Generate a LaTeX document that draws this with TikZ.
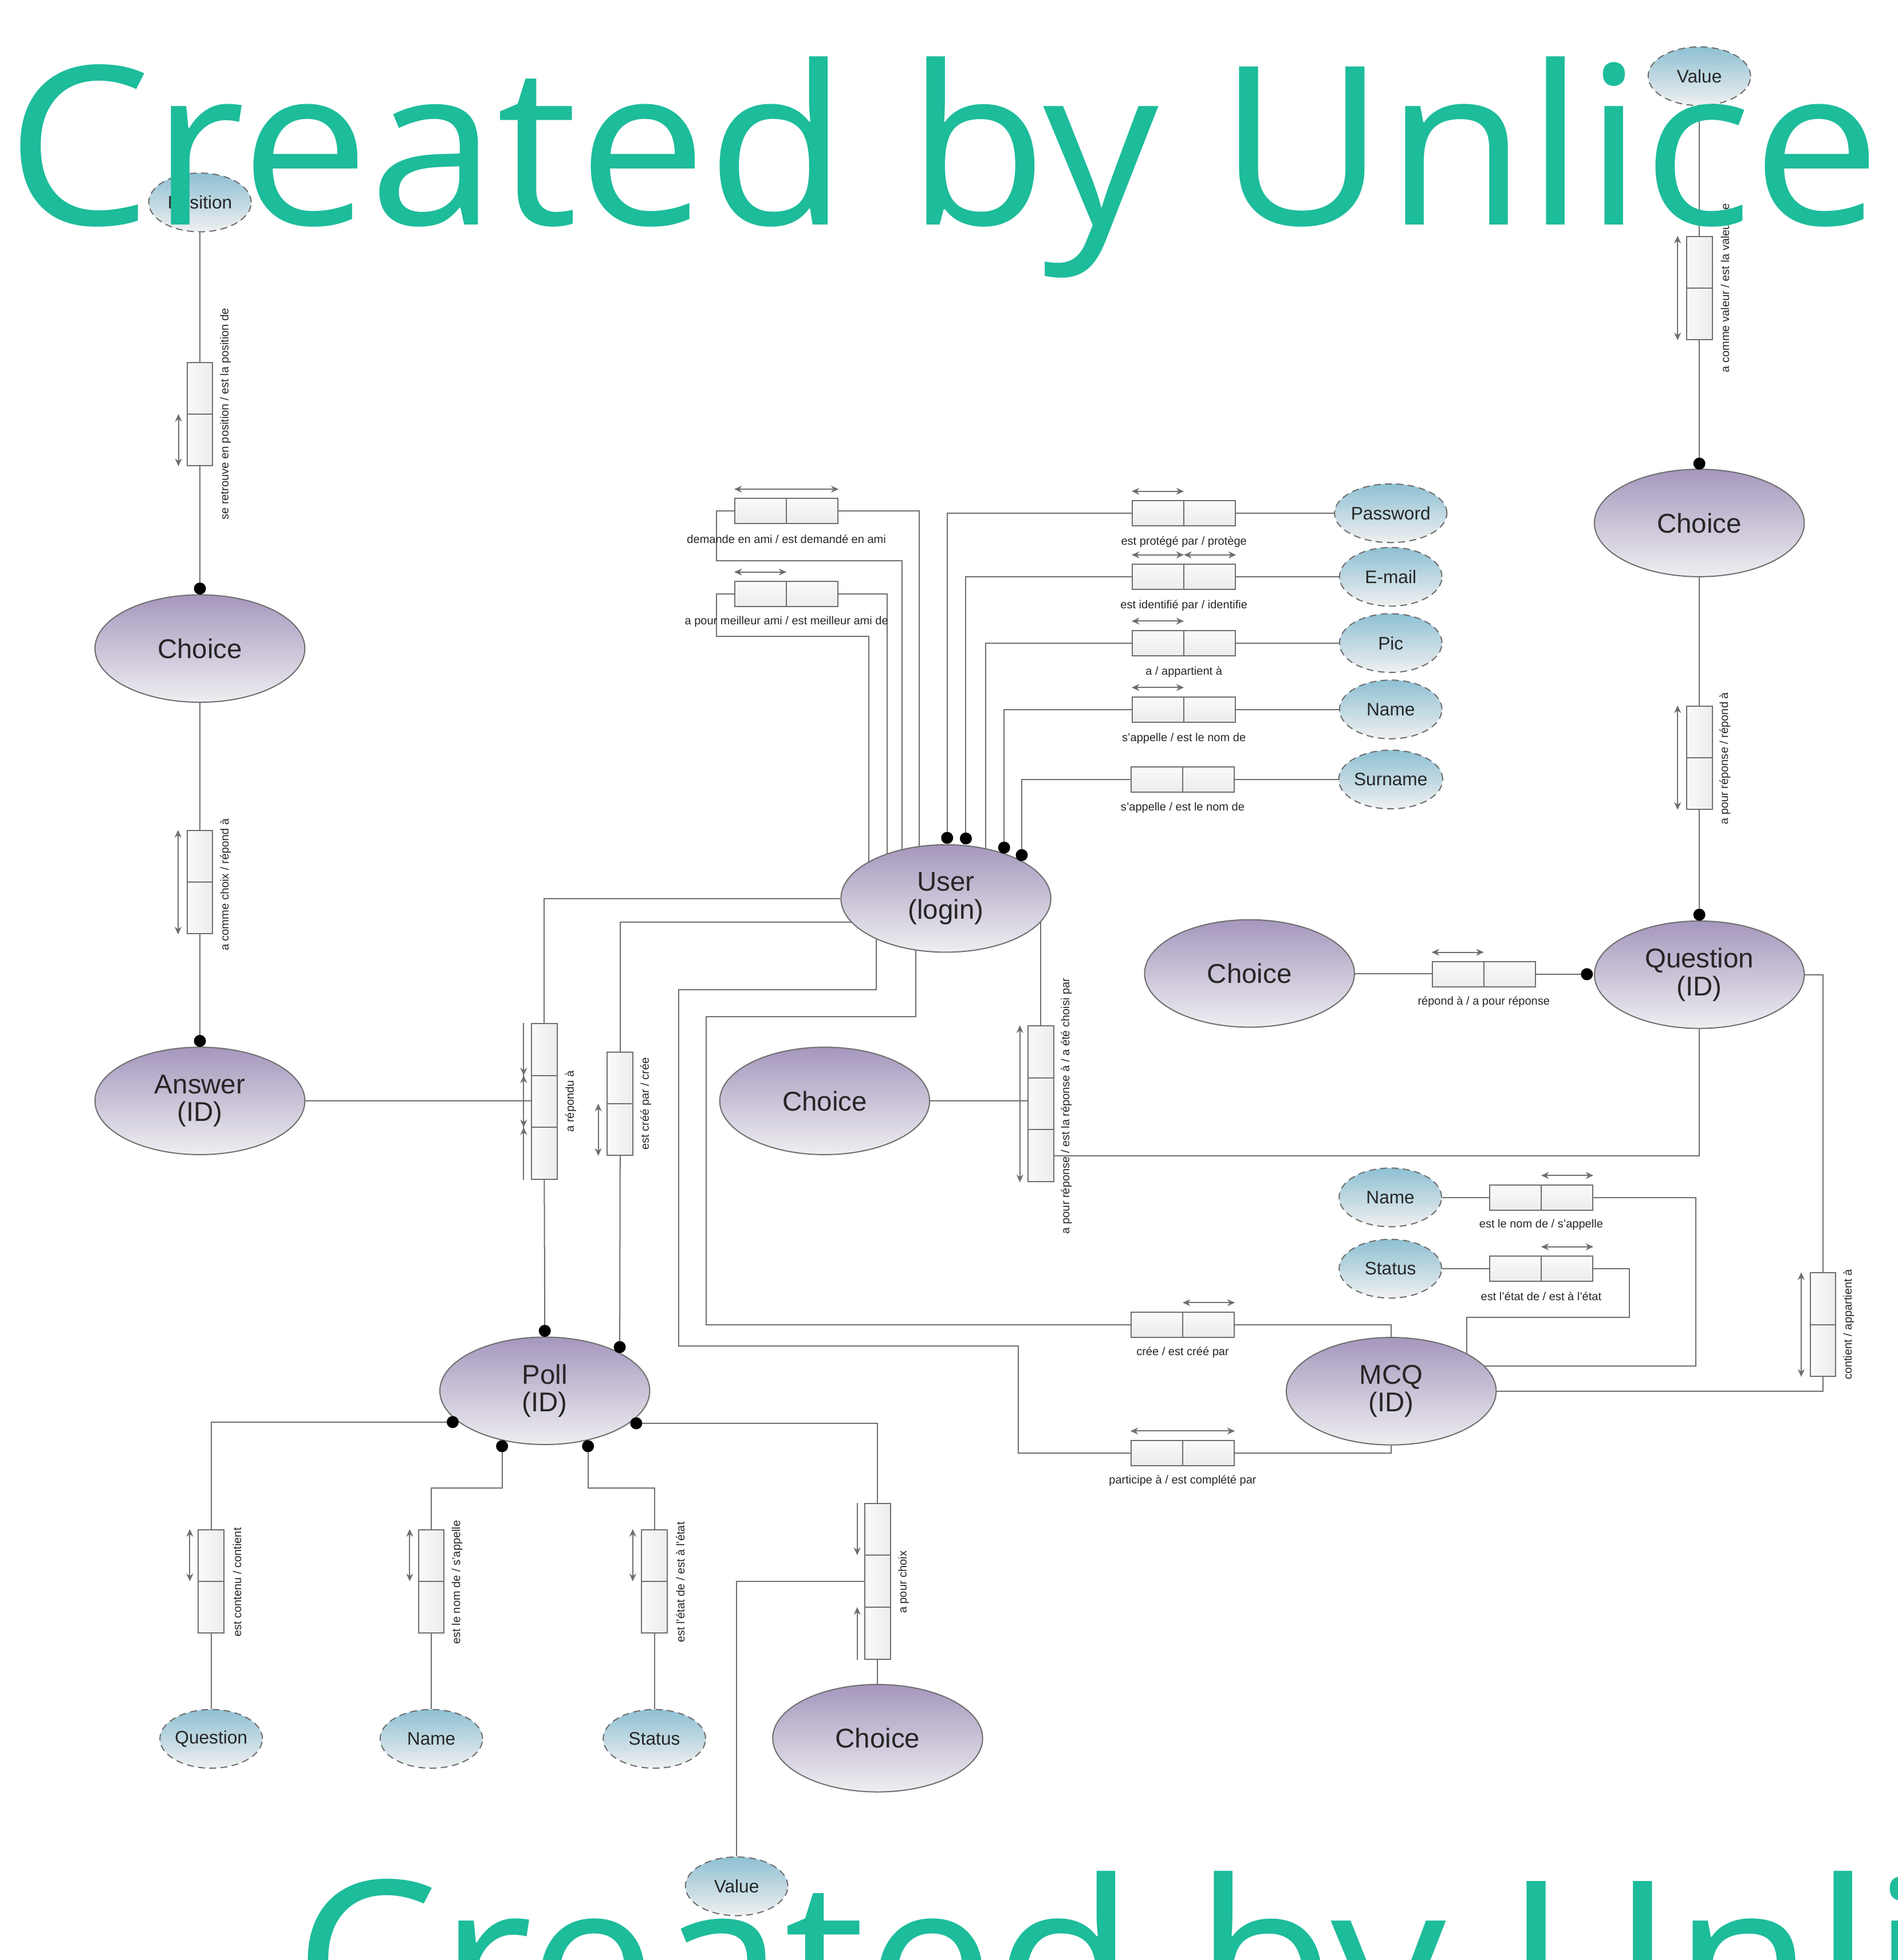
\documentclass[tikz,border=0pt]{standalone}
\usepackage{fontspec}
\setmainfont{Liberation Sans}
\newfontfamily\wmfont{Open Sans}
\usetikzlibrary{shapes.geometric,arrows.meta,calc}
\definecolor{ln}{HTML}{6E6E6E}
\definecolor{txt}{HTML}{262626}
\definecolor{entTop}{HTML}{A597BD}
\definecolor{entBot}{HTML}{EFEEF1}
\definecolor{attTop}{HTML}{8EC0D3}
\definecolor{attBot}{HTML}{F0F0F0}
\definecolor{wm}{HTML}{1DBC9B}
\definecolor{boxA}{HTML}{FAFAFA}
\definecolor{boxB}{HTML}{ECECEC}
\pgfdeclarelayer{bg}
\pgfdeclarelayer{fg}
\pgfsetlayers{bg,main,fg}
\tikzset{
 conn/.style={draw=ln, line width=0.57pt},
 ent/.style={ellipse, draw=ln, line width=0.57pt, top color=entTop, bottom color=entBot,
   minimum width=3.665cm, minimum height=1.876cm, inner sep=0pt, align=center, text=txt,
   font=\fontsize{13.5}{13.8}\selectfont},
 att/.style={ellipse, draw=ln, line width=0.57pt, dash pattern=on 3.4pt off 2.2pt,
   top color=attTop, bottom color=attBot, minimum width=1.789cm, minimum height=1.025cm,
   inner sep=0pt, text=txt, font=\fontsize{9}{10}\selectfont},
 hbox/.style={rectangle, draw=ln, line width=0.57pt, top color=boxA, bottom color=boxB,
   minimum width=1.804cm, minimum height=0.44cm, inner sep=0pt,
   path picture={\draw[ln, line width=0.57pt] (path picture bounding box.north) -- (path picture bounding box.south);}},
 vbox2/.style={rectangle, draw=ln, line width=0.57pt, left color=boxA, right color=boxB,
   minimum width=0.447cm, minimum height=1.804cm, inner sep=0pt,
   path picture={\draw[ln, line width=0.57pt] (path picture bounding box.west) -- (path picture bounding box.east);}},
 vbox3/.style={rectangle, draw=ln, line width=0.57pt, left color=boxA, right color=boxB,
   minimum width=0.447cm, minimum height=2.72cm, inner sep=0pt,
   path picture={
     \draw[ln, line width=0.57pt] ($(path picture bounding box.north west)!0.3333!(path picture bounding box.south west)$) -- ($(path picture bounding box.north east)!0.3333!(path picture bounding box.south east)$);
     \draw[ln, line width=0.57pt] ($(path picture bounding box.north west)!0.6667!(path picture bounding box.south west)$) -- ($(path picture bounding box.north east)!0.6667!(path picture bounding box.south east)$);}},
 lbl/.style={inner sep=0pt, text=txt, font=\fontsize{5.7}{6.5}\selectfont},
 vlbl/.style={lbl, rotate=90},
 rarr/.style={draw=ln, line width=0.57pt, arrows={Stealth[length=3.8pt,width=3.4pt,inset=1.2pt]-Stealth[length=3.8pt,width=3.4pt,inset=1.2pt]}},
 tarr/.style={draw=ln, line width=0.57pt, arrows={-Stealth[length=3.8pt,width=3.4pt,inset=1.2pt]}},
 dot/.style={circle, fill=black, inner sep=0pt, minimum size=0.21cm},
 wmtext/.style={inner sep=0pt, text=wm, xscale=1.037, font=\wmfont\fontsize{110}{120}\selectfont},
}
\begin{document}
\begin{tikzpicture}[x=0.021817cm,y=-0.021817cm]
\useasboundingbox (0,0) rectangle (1519,1568.5);
% ---------- entities
\node[ent] (chTL) at (160,519) {Choice};
\node[ent] (answer) at (160,881) {Answer\\(ID)};
\node[ent] (user) at (757,719) {User\\(login)};
\node[ent] (chMid) at (660,881) {Choice};
\node[ent] (chMR) at (1000,779) {Choice};
\node[ent] (question) at (1360,780) {Question\\(ID)};
\node[ent] (chTR) at (1360,418.5) {Choice};
\node[ent] (poll) at (436,1113) {Poll\\(ID)};
\node[ent] (mcq) at (1113.4,1113.3) {MCQ\\(ID)};
\node[ent] (chBot) at (702.4,1391) {Choice};
% ---------- attributes
\node[att] (aPos) at (160,162) {Position};
\node[att] (aValT) at (1360,61) {Value};
\node[att] (aPw) at (1113,410.7) {Password};
\node[att] (aMail) at (1113,461.6) {E-mail};
\node[att] (aPic) at (1113,514.6) {Pic};
\node[att] (aName) at (1113,567.7) {Name};
\node[att] (aSur) at (1113,623.8) {Surname};
\node[att] (aName2) at (1112.7,958.2) {Name};
\node[att] (aStat2) at (1112.7,1015.3) {Status};
\node[att] (aQ) at (169,1391.5) {Question};
\node[att] (aName3) at (345.2,1391.5) {Name};
\node[att] (aStat3) at (523.7,1391.5) {Status};
\node[att] (aValB) at (589.5,1509.5) {Value};
% ---------- horizontal relation boxes
\node[hbox] (rFriend) at (629.4,409) {};
\node[hbox] (rBest) at (629.4,475.3) {};
\node[hbox] (rPw) at (947.5,410.7) {};
\node[hbox] (rMail) at (947.5,461.6) {};
\node[hbox] (rPic) at (947.5,514.6) {};
\node[hbox] (rName) at (947.5,567.7) {};
\node[hbox] (rSur) at (946.5,623.8) {};
\node[hbox] (rRep) at (1187.5,779.6) {};
\node[hbox] (rName2) at (1233.4,958.2) {};
\node[hbox] (rStat2) at (1233.4,1015.3) {};
\node[hbox] (rCree) at (946.5,1060) {};
\node[hbox] (rPart) at (946.5,1162.7) {};
\node[lbl] (lFriend) at ($(rFriend.south)+(0,11.8)$) {demande en ami / est demandé en ami};
\node[lbl] (lBest) at ($(rBest.south)+(0,11.8)$) {a pour meilleur ami / est meilleur ami de};
\node[lbl] (lPw) at ($(rPw.south)+(0,12.5)$) {est protégé par / protège};
\node[lbl] (lMail) at ($(rMail.south)+(0,12.3)$) {est identifié par / identifie};
\node[lbl] (lPic) at ($(rPic.south)+(0,12.5)$) {a / appartient à};
\node[lbl] (lName) at ($(rName.south)+(0,12.5)$) {s'appelle / est le nom de};
\node[lbl] (lSur) at ($(rSur.south)+(0,12)$) {s'appelle / est le nom de};
\node[lbl] (lRep) at ($(rRep.south)+(0,11.5)$) {répond à / a pour réponse};
\node[lbl] (lName2) at ($(rName2.south)+(0,11.5)$) {est le nom de / s'appelle};
\node[lbl] (lStat2) at ($(rStat2.south)+(0,11.5)$) {est l'état de / est à l'état};
\node[lbl] (lCree) at ($(rCree.south)+(0,11.5)$) {crée / est créé par};
\node[lbl] (lPart) at ($(rPart.south)+(0,11.5)$) {participe à / est complété par};
% arrows over horizontal boxes
\draw[rarr] ($(rFriend.north west)+(0,-7)$) -- ($(rFriend.north east)+(0,-7)$);
\draw[rarr] ($(rBest.north west)+(0,-7)$) -- ($(rBest.north)+(0,-7)$);
\draw[rarr] ($(rPw.north west)+(0,-7)$) -- ($(rPw.north)+(0,-7)$);
\draw[rarr] ($(rMail.north west)+(0,-7)$) -- ($(rMail.north)+(0,-7)$);
\draw[rarr] ($(rMail.north)+(0,-7)$) -- ($(rMail.north east)+(0,-7)$);
\draw[rarr] ($(rPic.north west)+(0,-7)$) -- ($(rPic.north)+(0,-7)$);
\draw[rarr] ($(rName.north west)+(0,-7)$) -- ($(rName.north)+(0,-7)$);
\draw[rarr] ($(rRep.north west)+(0,-7)$) -- ($(rRep.north)+(0,-7)$);
\draw[rarr] ($(rName2.north)+(0,-7)$) -- ($(rName2.north east)+(0,-7)$);
\draw[rarr] ($(rStat2.north)+(0,-7)$) -- ($(rStat2.north east)+(0,-7)$);
\draw[rarr] ($(rCree.north)+(0,-7)$) -- ($(rCree.north east)+(0,-7)$);
\draw[rarr] ($(rPart.north west)+(0,-7)$) -- ($(rPart.north east)+(0,-7)$);
% ---------- vertical relation boxes
\node[vbox2] (rPos) at (160,331.3) {};
\node[vbox2] (rChoix) at (160,706) {};
\node[vbox3] (rRepondu) at (435.6,881.4) {};
\node[vbox2] (rCreePar) at (496.3,883.2) {};
\node[vbox3] (rChoisi) at (832.9,883.3) {};
\node[vbox2] (rValT) at (1360,230.5) {};
\node[vbox2] (rChoixR) at (1360,606.3) {};
\node[vbox2] (rCont) at (1459,1060) {};
\node[vbox2] (rQ) at (169,1265.4) {};
\node[vbox2] (rNm) at (345.2,1265.4) {};
\node[vbox2] (rSt) at (523.7,1265.4) {};
\node[vbox3] (rPc) at (702.4,1265.3) {};
\node[vlbl] (lPos) at ($(rPos.east)+(9.8,0)$) {se retrouve en position / est la position de};
\node[vlbl] (lChoix) at ($(rChoix.east)+(9.8,2)$) {a comme choix / répond à};
\node[vlbl] (lRepondu) at ($(rRepondu.east)+(10.5,0)$) {a répondu à};
\node[vlbl] (lCreePar) at ($(rCreePar.east)+(9.8,0)$) {est créé par / crée};
\node[vlbl] (lChoisi) at ($(rChoisi.east)+(9.8,1.7)$) {a pour réponse / est la réponse à / a été choisi par};
\node[vlbl] (lValT) at ($(rValT.east)+(9.8,0)$) {a comme valeur / est la valeur de};
\node[vlbl] (lChoixR) at ($(rChoixR.east)+(9.8,0.7)$) {a pour réponse / répond à};
\node[vlbl] (lCont) at ($(rCont.east)+(9.8,0)$) {contient / appartient à};
\node[vlbl] (lQ) at ($(rQ.east)+(10,0.8)$) {est contenu / contient};
\node[vlbl] (lNm) at ($(rNm.east)+(10,0.8)$) {est le nom de / s'appelle};
\node[vlbl] (lSt) at ($(rSt.east)+(10,0.8)$) {est l'état de / est à l'état};
\node[vlbl] (lPc) at ($(rPc.east)+(10,0.8)$) {a pour choix};
% arrows beside vertical boxes
\draw[rarr] ($(rPos.center)+(-17.2,0)$) -- ($(rPos.south)+(-17.2,0)$);
\draw[rarr] ($(rChoix.north)+(-17.5,0)$) -- ($(rChoix.south)+(-17.5,0)$);
\draw[rarr] ($(rCreePar.center)+(-17.5,0)$) -- ($(rCreePar.south)+(-17.5,0)$);
\draw[rarr] ($(rChoisi.north)+(-16.7,0)$) -- ($(rChoisi.south)+(-16.7,0)$);
\draw[rarr] ($(rValT.north)+(-17.4,0)$) -- ($(rValT.south)+(-17.4,0)$);
\draw[rarr] ($(rChoixR.north)+(-17.4,0)$) -- ($(rChoixR.south)+(-17.4,0)$);
\draw[rarr] ($(rCont.north)+(-17.5,0)$) -- ($(rCont.south)+(-17.5,0)$);
\draw[rarr] ($(rQ.north)+(-17.1,0)$) -- ($(rQ.center)+(-17.1,0)$);
\draw[rarr] ($(rNm.north)+(-17.3,0)$) -- ($(rNm.center)+(-17.3,0)$);
\draw[rarr] ($(rSt.north)+(-17.3,0)$) -- ($(rSt.center)+(-17.3,0)$);
% special arrows of a repondu a
\draw[conn] ($(rRepondu.north)+(-16.5,0)$) -- ($(rRepondu.south)+(-16.5,0)$);
\draw[tarr] (419.1,851) -- (419.1,860.6);
\draw[tarr] (419.1,870) -- (419.1,860.6);
\draw[tarr] (419.1,892.5) -- (419.1,902.1);
\draw[tarr] (419.1,911.5) -- (419.1,902.1);
% special arrows of a pour choix
\draw[tarr] ($(rPc.north)+(-16.4,0)$) -- (686,1244.5);
\draw[tarr] ($(rPc.south)+(-16.4,0)$) -- (686,1286.1);
% ---------- dots
\node[dot] (dPos) at (160,471) {};
\node[dot] (dAns) at (160,833) {};
\node[dot] (dU1) at (758,670.5) {};
\node[dot] (dU2) at (773,671) {};
\node[dot] (dU3) at (803.6,678.3) {};
\node[dot] (dU4) at (817.7,684.3) {};
\node[dot] (dP1) at (436,1065) {};
\node[dot] (dP2) at (496,1078) {};
\node[dot] (dPL) at (362.3,1138) {};
\node[dot] (dPB1) at (401.8,1157.3) {};
\node[dot] (dPB2) at (470.6,1157.3) {};
\node[dot] (dPR) at (509.2,1139) {};
\node[dot] (dChTR) at (1360,371) {};
\node[dot] (dQT) at (1360,732) {};
\node[dot] (dQL) at (1270,779.6) {};
% ---------- helper coordinates (inside ellipses or at bends)
\coordinate (fr1) at (573.4,448.5);
\coordinate (fr2) at (721.8,719);
\coordinate (fr3) at (735.5,719);
\coordinate (be1) at (573.4,509.3);
\coordinate (be2) at (695.3,719);
\coordinate (be3) at (710,719);
\coordinate (uPic) at (789,719);
\coordinate (uCree) at (700,738);
\coordinate (uCh) at (832.9,725);
\coordinate (uB1) at (701.5,740);
\coordinate (uB2) at (733,740);
\coordinate (k1) at (543,792);
\coordinate (k2) at (815,1077);
\coordinate (k3) at (565,813.6);
\coordinate (m1) at (1357,1093);
\coordinate (m2) at (1180,1093);
\coordinate (m3) at (1304,1054.4);
\coordinate (m4) at (1174,1100);
\coordinate (chBR) at ($(rChoisi.south east)+(0,-21)$);
% ---------- connectors
\begin{pgfonlayer}{bg}
\draw[conn] (aPos.south) -- (rPos.north);
\draw[conn] (rPos.south) -- (dPos.center);
\draw[conn] (chTL.south) -- (rChoix.north);
\draw[conn] (rChoix.south) -- (dAns.center);
\draw[conn] (answer.east) -- (answer.east -| rRepondu.west);
\draw[conn] (rRepondu.north) |- (user.west);
\draw[conn] (rRepondu.south) -- (dP1.center);
\draw[conn] (rCreePar.north) |- (uCree);
\draw[conn] (rCreePar.south) -- (dP2.center);
\draw[conn] (rFriend.west) -| (fr1) -| (fr2);
\draw[conn] (rFriend.east) -| (fr3);
\draw[conn] (rBest.west) -| (be1) -| (be2);
\draw[conn] (rBest.east) -| (be3);
\draw[conn] (rPw.east) -- (rPw.east -| aPw.west);
\draw[conn] (rPw.west) -| (dU1.center);
\draw[conn] (rMail.east) -- (rMail.east -| aMail.west);
\draw[conn] (rMail.west) -| (dU2.center);
\draw[conn] (rPic.east) -- (rPic.east -| aPic.west);
\draw[conn] (rPic.west) -| (uPic);
\draw[conn] (rName.east) -- (rName.east -| aName.west);
\draw[conn] (rName.west) -| (dU3.center);
\draw[conn] (rSur.east) -- (rSur.east -| aSur.west);
\draw[conn] (rSur.west) -| (dU4.center);
\draw[conn] (uB1) |- (k1) |- (k2) |- (rPart.west);
\draw[conn] (uB2) |- (k3) |- (rCree.west);
\draw[conn] (rPart.east) -| (mcq.south);
\draw[conn] (rCree.east) -| (mcq.north);
\draw[conn] (rChoisi.north) -- (uCh);
\draw[conn] (chMid.east) -- (chMid.east -| rChoisi.west);
\draw[conn] (chBR) -| (question.south);
\draw[conn] (chMR.east) -- (chMR.east -| rRep.west);
\draw[conn] (rRep.east) -- (dQL.center);
\draw[conn] (aValT.south) -- (rValT.north);
\draw[conn] (rValT.south) -- (dChTR.center);
\draw[conn] (chTR.south) -- (rChoixR.north);
\draw[conn] (rChoixR.south) -- (dQT.center);
\draw[conn] (question.east) -| (rCont.north);
\draw[conn] (rCont.south) |- (mcq.east);
\draw[conn] (aName2.east) -- (aName2.east -| rName2.west);
\draw[conn] (rName2.east) -| (m1) -- (m2);
\draw[conn] (aStat2.east) -- (aStat2.east -| rStat2.west);
\draw[conn] (rStat2.east) -| (m3) -| (m4);
\draw[conn] (dPL.center) -| (rQ.north);
\draw[conn] (dPB1.center) |- ($(rNm.north)+(0,-33)$) -- (rNm.north);
\draw[conn] (dPB2.center) |- ($(rSt.north)+(0,-33)$) -- (rSt.north);
\draw[conn] (dPR.center) -| (rPc.north);
\draw[conn] (rQ.south) -- (aQ.north);
\draw[conn] (rNm.south) -- (aName3.north);
\draw[conn] (rSt.south) -- (aStat3.north);
\draw[conn] (rPc.south) -- (chBot.north);
\draw[conn] (rPc.west) -| (aValB.north);
\end{pgfonlayer}
% ---------- watermark
\begin{pgfonlayer}{fg}
\begin{scope}
\clip (0,0) rectangle (1519,1568.5);
\node[wmtext, anchor=base west] (wmTop) at (5,180) {Created by Unlicensed Version};
\node[wmtext, anchor=base west] (wmBot) at (235,1632) {Created by Unlicensed Version};
\end{scope}
\end{pgfonlayer}
\end{tikzpicture}
\end{document}
